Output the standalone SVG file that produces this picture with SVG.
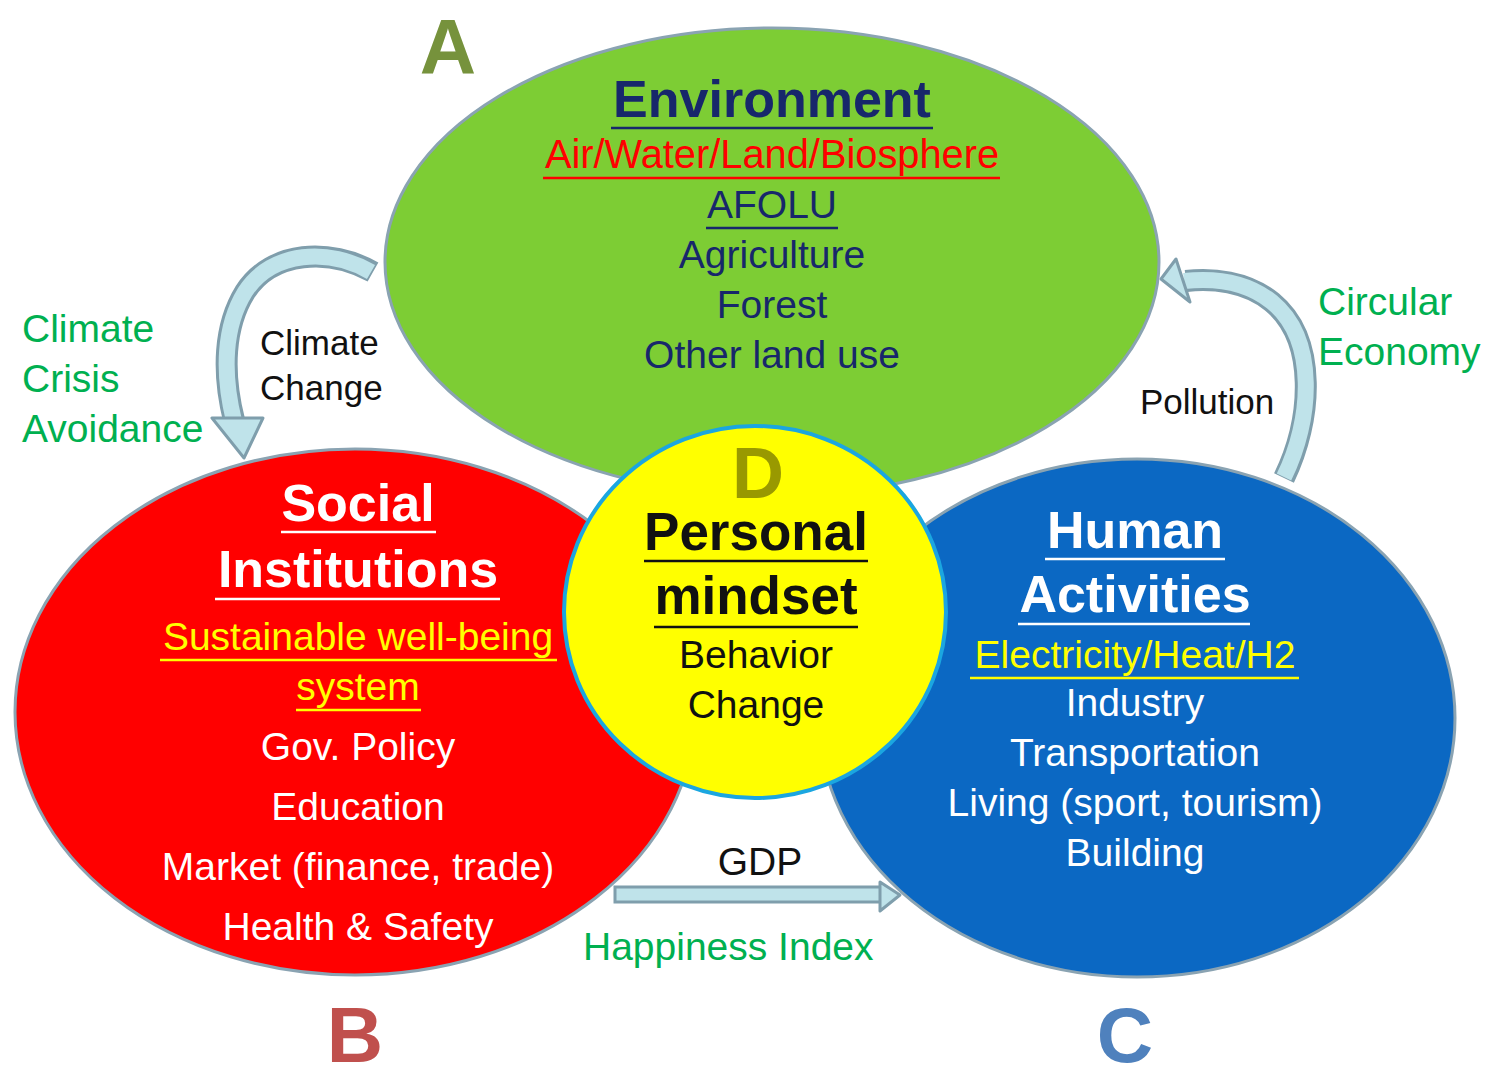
<svg xmlns="http://www.w3.org/2000/svg" width="1491" height="1073" viewBox="0 0 1491 1073">
<style>
text{font-family:"Liberation Sans",Arial,sans-serif;}
.c{text-anchor:middle;}
.b{font-weight:bold;}
.t39{font-size:39px;}
.t35{font-size:35px;}
.t52{font-size:52px;font-weight:bold;}
.navy{fill:#17276b;}
.wh{fill:#ffffff;}
.yl{fill:#ffff00;}
.gr{fill:#00b050;}
.bk{fill:#111111;}
.big{font-size:78px;font-weight:bold;}
.ell{stroke:#8aa3b2;stroke-width:3;}
.ul{stroke-width:2.5;}
.arrowbody{fill:none;stroke:#7f9eac;stroke-width:22;}
.arrowin{fill:none;stroke:#bfe3ea;stroke-width:16;}
.head{fill:#bfe3ea;stroke:#7f9eac;stroke-width:3;stroke-linejoin:round;}
</style>
<rect width="1491" height="1073" fill="#ffffff"/>

<g id="connectors">
  <!-- left curved arrow: Climate Change -->
  <path class="arrowbody" d="M373 272 C330 248 272 250 245 292 C224 326 222 372 234 420"/>
  <path class="arrowin" d="M371 272 C330 248 272 250 245 292 C224 326 222 372 234 421"/>
  <polygon class="head" points="212,418 263,418 244,458"/>
  <!-- right curved arrow: Pollution -->
  <path class="arrowbody" d="M1284 478 C1312 420 1318 340 1272 302 C1246 281 1212 278 1186 281"/>
  <path class="arrowin" d="M1284 477 C1312 420 1318 340 1272 302 C1246 281 1212 278 1184 281"/>
  <polygon class="head" points="1161,279 1176,259 1190,302"/>
  <!-- GDP arrow -->
  <rect x="615" y="887" width="268" height="15" fill="#bfe3ea" stroke="#7f9eac" stroke-width="3"/>
  <polygon class="head" points="880,882 900,895 880,911"/>
</g>

<g id="node-A">
  <ellipse class="ell" cx="772" cy="262" rx="387" ry="234" fill="#7dcd34"/>
  <text x="448" y="74" class="c big" fill="#76923c">A</text>
  <text x="772" y="117" class="c b navy" font-size="52">Environment</text>
  <line class="ul" x1="611" y1="128" x2="933" y2="128" stroke="#17276b"/>
  <text x="772" y="168" class="c" font-size="39.8" fill="#ff0000">Air/Water/Land/Biosphere</text>
  <line class="ul" x1="543" y1="178" x2="1000" y2="178" stroke="#ff0000"/>
  <text x="772" y="218" class="c t39 navy">AFOLU</text>
  <line class="ul" x1="706" y1="228" x2="838" y2="228" stroke="#17276b"/>
  <text x="772" y="268" class="c t39 navy">Agriculture</text>
  <text x="772" y="318" class="c t39 navy">Forest</text>
  <text x="772" y="368" class="c t39 navy">Other land use</text>
</g>

<g id="node-B">
  <ellipse class="ell" cx="355" cy="712" rx="340" ry="263" fill="#ff0000"/>
  <text x="358" y="521" class="c t52 wh">Social</text>
  <line class="ul" x1="281" y1="532" x2="436" y2="532" stroke="#ffffff"/>
  <text x="358" y="587" class="c t52 wh">Institutions</text>
  <line class="ul" x1="215" y1="599" x2="500" y2="599" stroke="#ffffff"/>
  <text x="358" y="650" class="c t39 yl">Sustainable well-being</text>
  <line class="ul" x1="160" y1="660" x2="557" y2="660" stroke="#ffff00"/>
  <text x="358" y="700" class="c t39 yl">system</text>
  <line class="ul" x1="296" y1="710" x2="421" y2="710" stroke="#ffff00"/>
  <text x="358" y="760" class="c t39 wh">Gov. Policy</text>
  <text x="358" y="820" class="c t39 wh">Education</text>
  <text x="358" y="880" class="c t39 wh">Market (finance, trade)</text>
  <text x="358" y="940" class="c t39 wh">Health &amp; Safety</text>
  <text x="355" y="1062" class="c big" fill="#c0504d">B</text>
</g>

<g id="node-C">
  <ellipse class="ell" cx="1137" cy="718" rx="318" ry="259" fill="#0b68c3"/>
  <text x="1135" y="548" class="c t52 wh">Human</text>
  <line class="ul" x1="1045" y1="559" x2="1225" y2="559" stroke="#ffffff"/>
  <text x="1135" y="612" class="c t52 wh">Activities</text>
  <line class="ul" x1="1018" y1="624" x2="1250" y2="624" stroke="#ffffff"/>
  <text x="1135" y="668" class="c t39 yl">Electricity/Heat/H2</text>
  <line class="ul" x1="970" y1="678" x2="1299" y2="678" stroke="#ffff00"/>
  <text x="1135" y="716" class="c t39 wh">Industry</text>
  <text x="1135" y="766" class="c t39 wh">Transportation</text>
  <text x="1135" y="816" class="c t39 wh">Living (sport, tourism)</text>
  <text x="1135" y="866" class="c t39 wh">Building</text>
  <text x="1125" y="1062" class="c big" fill="#4f81bd">C</text>
</g>

<g id="node-D">
  <ellipse cx="755" cy="612" rx="191" ry="186" fill="#ffff00" stroke="#1ba6e0" stroke-width="4"/>
  <text x="758" y="498" class="c b" font-size="72" fill="#999900">D</text>
  <text x="756" y="550" class="c b bk" font-size="53">Personal</text>
  <line class="ul" x1="644" y1="561" x2="868" y2="561" stroke="#111111"/>
  <text x="756" y="614" class="c b bk" font-size="53">mindset</text>
  <line class="ul" x1="654" y1="627" x2="858" y2="627" stroke="#111111"/>
  <text x="756" y="668" class="c t39 bk">Behavior</text>
  <text x="756" y="718" class="c t39 bk">Change</text>
</g>

<g id="labels">
  <text x="22" y="342" class="t39 gr">Climate</text>
  <text x="22" y="392" class="t39 gr">Crisis</text>
  <text x="22" y="442" class="t39 gr">Avoidance</text>
  <text x="260" y="355" class="t35 bk">Climate</text>
  <text x="260" y="400" class="t35 bk">Change</text>
  <text x="1318" y="315" class="t39 gr">Circular</text>
  <text x="1318" y="365" class="t39 gr">Economy</text>
  <text x="1140" y="414" class="t35 bk">Pollution</text>
  <text x="760" y="875" class="c t39 bk">GDP</text>
  <text x="583" y="960" class="t39 gr">Happiness Index</text>
</g>
</svg>
